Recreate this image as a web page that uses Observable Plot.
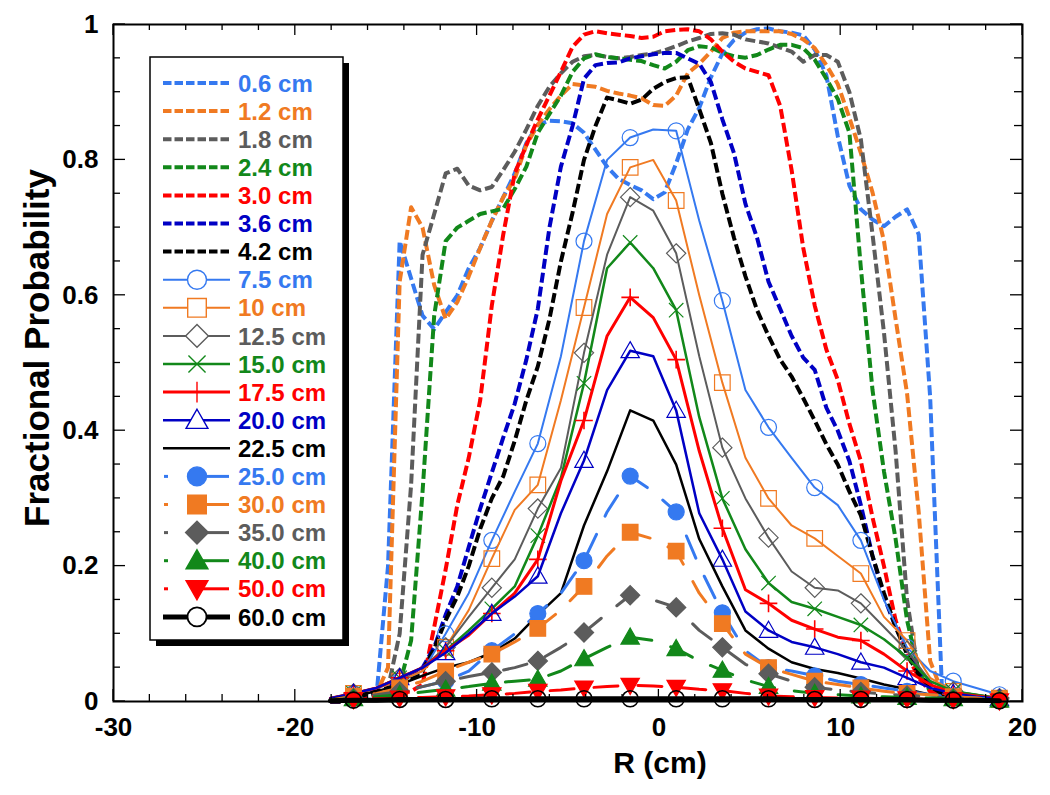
<!DOCTYPE html>
<html>
<head>
<meta charset="utf-8">
<script src="https://cdn.jsdelivr.net/npm/d3@7"></script>
<script src="https://cdn.jsdelivr.net/npm/@observablehq/plot@0.6"></script>
<style>
  html, body { margin: 0; padding: 0; background: #fff; }
  #chart svg { display: block; }
</style>
</head>
<body>
<div id="chart"></div>
<script>
// ---------- DATA ----------
// radial positions (cm): fine grid for the shallow-depth (dashed) curves
const R_fine = [-18.07,-17.44,-16.80,-16.17,-15.53,-14.90,-14.26,-13.63,-13.00,-12.36,-11.73,-11.09,-10.46,-9.83,-9.19,-8.56,-7.93,-7.29,-6.66,-6.02,-5.39,-4.75,-4.12,-3.49,-2.85,-2.22,-1.58,-0.95,-0.31,0.32,0.95,1.59,2.22,2.86,3.49,4.13,4.76,5.40,6.03,6.67,7.30,7.94,8.57,9.21,9.84,10.48,11.11,11.75,12.38,13.02,13.65,14.29,14.92,15.56,16.19,16.83,17.46,18.10,18.73];
// radial positions (cm) for the deeper curves (markers on every second point)
const R_mark = [-18.07,-16.80,-15.53,-14.26,-13.00,-11.73,-10.46,-9.19,-7.93,-6.66,-5.39,-4.12,-2.85,-1.58,-0.31,0.95,2.22,3.49,4.76,6.03,7.30,8.57,9.84,11.11,12.38,13.65,14.92,16.19,17.46,18.73];

const v06 = [0,0,0.005,0.01,0.01,0.2,0.68,0.625,0.57,0.55,0.575,0.6,0.64,0.67,0.71,0.745,0.78,0.825,0.852,0.858,0.857,0.854,0.84,0.815,0.79,0.772,0.763,0.755,0.742,0.752,0.795,0.845,0.877,0.922,0.957,0.977,0.988,0.993,0.994,0.99,0.988,0.984,0.963,0.925,0.835,0.762,0.727,0.712,0.702,0.716,0.727,0.69,0.45,0.025,0.01,0.008,0.005,0.003,0];
const v12 = [0,0,0.005,0.01,0.012,0.05,0.62,0.73,0.70,0.615,0.565,0.59,0.628,0.67,0.71,0.745,0.772,0.822,0.852,0.875,0.895,0.912,0.91,0.908,0.902,0.898,0.895,0.891,0.881,0.88,0.895,0.928,0.942,0.96,0.98,0.988,0.99,0.99,0.99,0.99,0.986,0.978,0.965,0.94,0.912,0.862,0.81,0.752,0.68,0.565,0.455,0.28,0.06,0.015,0.01,0.006,0.004,0.002,0];
const v18 = [0,0,0.005,0.01,0.012,0.02,0.1,0.32,0.66,0.72,0.78,0.787,0.762,0.755,0.76,0.785,0.812,0.845,0.88,0.908,0.928,0.945,0.953,0.955,0.952,0.95,0.952,0.955,0.957,0.962,0.968,0.975,0.98,0.986,0.987,0.985,0.978,0.975,0.972,0.966,0.96,0.945,0.955,0.955,0.945,0.9,0.83,0.69,0.545,0.37,0.15,0.04,0.02,0.01,0.007,0.005,0.004,0.002,0];
const v24 = [0,0,0.005,0.008,0.01,0.015,0.025,0.09,0.31,0.57,0.68,0.70,0.71,0.72,0.724,0.728,0.757,0.79,0.84,0.868,0.895,0.93,0.95,0.956,0.952,0.95,0.948,0.946,0.94,0.935,0.945,0.962,0.968,0.966,0.958,0.953,0.951,0.955,0.963,0.97,0.97,0.965,0.948,0.92,0.89,0.84,0.64,0.46,0.34,0.24,0.12,0.045,0.015,0.008,0.006,0.005,0.004,0.002,0];
const v30 = [0,0,0.003,0.005,0.008,0.01,0.012,0.015,0.025,0.11,0.195,0.29,0.36,0.445,0.585,0.69,0.78,0.822,0.86,0.895,0.93,0.967,0.985,0.99,0.987,0.985,0.983,0.98,0.982,0.99,0.992,0.993,0.99,0.978,0.96,0.945,0.935,0.93,0.925,0.88,0.785,0.67,0.585,0.52,0.475,0.41,0.355,0.272,0.2,0.12,0.07,0.035,0.015,0.008,0.005,0.004,0.003,0.002,0];
const v36 = [0,0,0.005,0.01,0.015,0.02,0.028,0.038,0.05,0.08,0.128,0.17,0.228,0.285,0.338,0.39,0.44,0.505,0.58,0.70,0.79,0.85,0.92,0.94,0.943,0.944,0.95,0.953,0.956,0.958,0.958,0.95,0.942,0.915,0.86,0.81,0.735,0.685,0.62,0.58,0.54,0.508,0.49,0.434,0.40,0.355,0.29,0.215,0.155,0.11,0.075,0.045,0.025,0.015,0.01,0.007,0.005,0.003,0];
const v42 = [0,0,0.005,0.01,0.015,0.02,0.025,0.033,0.045,0.078,0.12,0.155,0.2,0.255,0.30,0.333,0.385,0.445,0.495,0.565,0.65,0.722,0.80,0.85,0.892,0.888,0.883,0.889,0.905,0.915,0.921,0.922,0.875,0.825,0.75,0.685,0.628,0.578,0.54,0.505,0.48,0.448,0.415,0.38,0.35,0.31,0.275,0.215,0.16,0.11,0.07,0.04,0.022,0.012,0.008,0.006,0.004,0.002,0];

const v75  = [0.005,0.012,0.02,0.03,0.045,0.1,0.16,0.238,0.31,0.381,0.51,0.68,0.80,0.833,0.845,0.843,0.71,0.592,0.46,0.405,0.36,0.316,0.29,0.238,0.15,0.08,0.045,0.03,0.02,0.01];
const v100 = [0.005,0.012,0.02,0.03,0.045,0.08,0.135,0.211,0.283,0.32,0.445,0.582,0.72,0.789,0.80,0.74,0.60,0.471,0.36,0.30,0.26,0.241,0.215,0.189,0.125,0.09,0.035,0.015,0.01,0.005];
const v125 = [0.005,0.012,0.02,0.035,0.05,0.08,0.125,0.168,0.21,0.285,0.345,0.515,0.66,0.745,0.725,0.662,0.51,0.375,0.30,0.242,0.192,0.168,0.164,0.145,0.11,0.075,0.03,0.015,0.01,0.005];
const v150 = [0.005,0.012,0.02,0.035,0.05,0.075,0.105,0.137,0.17,0.245,0.33,0.47,0.64,0.678,0.64,0.578,0.42,0.30,0.225,0.175,0.147,0.137,0.125,0.113,0.092,0.065,0.03,0.015,0.01,0.005];
const v175 = [0.005,0.012,0.02,0.035,0.05,0.075,0.098,0.13,0.16,0.21,0.326,0.415,0.54,0.597,0.567,0.505,0.37,0.256,0.165,0.145,0.12,0.107,0.095,0.09,0.07,0.045,0.025,0.012,0.008,0.004];
const v200 = [0.005,0.012,0.02,0.035,0.05,0.072,0.1,0.13,0.155,0.185,0.278,0.356,0.46,0.518,0.51,0.43,0.278,0.21,0.133,0.105,0.088,0.08,0.07,0.058,0.05,0.035,0.02,0.012,0.007,0.004];
const v225 = [0.003,0.008,0.015,0.025,0.038,0.05,0.058,0.072,0.093,0.128,0.16,0.26,0.34,0.43,0.415,0.35,0.24,0.17,0.105,0.078,0.058,0.048,0.042,0.034,0.025,0.018,0.01,0.006,0.004,0.002];
const v250 = [0.002,0.005,0.01,0.015,0.022,0.03,0.045,0.075,0.1,0.13,0.16,0.208,0.28,0.333,0.31,0.28,0.2,0.131,0.075,0.05,0.045,0.038,0.03,0.025,0.02,0.015,0.01,0.007,0.005,0.003];
const v300 = [0.002,0.008,0.012,0.02,0.03,0.045,0.058,0.07,0.088,0.108,0.135,0.17,0.215,0.25,0.24,0.222,0.16,0.115,0.07,0.05,0.04,0.03,0.025,0.02,0.015,0.012,0.01,0.007,0.005,0.003];
const v350 = [0.002,0.005,0.01,0.015,0.022,0.03,0.037,0.043,0.05,0.06,0.08,0.102,0.13,0.157,0.15,0.139,0.105,0.08,0.055,0.041,0.03,0.021,0.017,0.014,0.011,0.009,0.007,0.005,0.004,0.002];
const v400 = [0.002,0.004,0.007,0.01,0.014,0.018,0.022,0.027,0.03,0.033,0.045,0.063,0.08,0.095,0.09,0.078,0.06,0.046,0.032,0.022,0.016,0.012,0.01,0.008,0.007,0.006,0.005,0.004,0.003,0.002];
const v500 = [0.001,0.003,0.004,0.005,0.006,0.007,0.008,0.01,0.012,0.015,0.017,0.02,0.022,0.024,0.023,0.021,0.018,0.016,0.012,0.008,0.007,0.006,0.005,0.005,0.004,0.004,0.003,0.003,0.002,0.001];
const v600 = [0.001,0.002,0.002,0.003,0.003,0.003,0.003,0.004,0.004,0.004,0.004,0.004,0.004,0.004,0.004,0.004,0.004,0.004,0.004,0.004,0.003,0.003,0.003,0.003,0.003,0.003,0.002,0.002,0.002,0.001];

const dashedLabels = ["0.6 cm","1.2 cm","1.8 cm","2.4 cm","3.0 cm","3.6 cm","4.2 cm"];
const markedLabels = ["7.5 cm","10 cm","12.5 cm","15.0 cm","17.5 cm","20.0 cm","22.5 cm","25.0 cm","30.0 cm","35.0 cm","40.0 cm","50.0 cm","60.0 cm"];

const xTicks = [-30,-20,-10,0,10,20];
const xMinor = [-28,-26,-24,-22,-18,-16,-14,-12,-8,-6,-4,-2,2,4,6,8,12,14,16,18];
const yTicks = [0,0.2,0.4,0.6,0.8,1];
const yMinor = [0.05,0.1,0.15,0.25,0.3,0.35,0.45,0.5,0.55,0.65,0.7,0.75,0.85,0.9,0.95];

// ---------- STYLES ----------
const C = {blue:"#3579F0", orange:"#F07A22", grey:"#5C5C5C", green:"#12881A", red:"#FF0000", navy:"#0000C4", black:"#000000"};
function mkSym(f){ return {draw(ctx,size){ f(ctx, Math.sqrt(size/Math.PI)); }}; }
const SYM = {
  circle: mkSym((c,r)=>{c.moveTo(r,0); c.arc(0,0,r,0,2*Math.PI); c.closePath();}),
  square: mkSym((c,r)=>{c.moveTo(-r,-r); c.lineTo(r,-r); c.lineTo(r,r); c.lineTo(-r,r); c.closePath();}),
  diamond: mkSym((c,r)=>{const a=r*1.2; c.moveTo(0,-a); c.lineTo(a,0); c.lineTo(0,a); c.lineTo(-a,0); c.closePath();}),
  triUp: mkSym((c,r)=>{const a=r*1.15; c.moveTo(0,-a); c.lineTo(a,a*0.75); c.lineTo(-a,a*0.75); c.closePath();}),
  triDown: mkSym((c,r)=>{const a=r*1.15; c.moveTo(0,a); c.lineTo(a,-a*0.75); c.lineTo(-a,-a*0.75); c.closePath();}),
  times: mkSym((c,r)=>{const a=r*0.9; c.moveTo(-a,-a); c.lineTo(a,a); c.moveTo(a,-a); c.lineTo(-a,a);}),
  plus: mkSym((c,r)=>{const a=r*1.1; c.moveTo(0,-a); c.lineTo(0,a); c.moveTo(-a,0); c.lineTo(a,0);})
};
const DASH = "10,4";
const DASH_W = 4;
const LONGDASH = "24,20";

const dashedSeries = [v06,v12,v18,v24,v30,v36,v42].map((values,i)=>({
  label: dashedLabels[i], values,
  color: [C.blue,C.orange,C.grey,C.green,C.red,C.navy,C.black][i]
}));
const markedStyle = [
  {color:C.blue,   sym:"circle",  fill:"none",  sw:2,   dash:null},
  {color:C.orange, sym:"square",  fill:"none",  sw:2,   dash:null},
  {color:C.grey,   sym:"diamond", fill:"none",  sw:2,   dash:null},
  {color:C.green,  sym:"times",   fill:"none",  sw:2.5, dash:null},
  {color:C.red,    sym:"plus",    fill:"none",  sw:3,   dash:null},
  {color:C.navy,   sym:"triUp",   fill:"none",  sw:2.5, dash:null},
  {color:C.black,  sym:null,      fill:"none",  sw:2.5, dash:null},
  {color:C.blue,   sym:"circle",  fill:"fill",  sw:3,   dash:LONGDASH},
  {color:C.orange, sym:"square",  fill:"fill",  sw:3,   dash:LONGDASH},
  {color:C.grey,   sym:"diamond", fill:"fill",  sw:3,   dash:LONGDASH},
  {color:C.green,  sym:"triUp",   fill:"fill",  sw:3,   dash:LONGDASH},
  {color:C.red,    sym:"triDown", fill:"fill",  sw:3,   dash:LONGDASH},
  {color:C.black,  sym:"circle",  fill:"none",  sw:5,   dash:null}
];
const markedSeries = [v75,v100,v125,v150,v175,v200,v225,v250,v300,v350,v400,v500,v600].map((values,i)=>({
  label: markedLabels[i], values, ...markedStyle[i]
}));
const symR = {circle:8, square:7.8, diamond:8, triUp:8, triDown:8, times:8, plus:8};

// ---------- MARKS ----------
const marks = [];
for (const s of dashedSeries) {
  const pts = R_fine.map((r,i)=>({r, v: s.values[i]}));
  marks.push(Plot.line(pts, {x:"r", y:"v", stroke:s.color, strokeWidth:DASH_W, strokeDasharray:DASH, strokeLinecap:"butt"}));
}
for (const s of markedSeries) {
  const pts = R_mark.map((r,i)=>({r, v: s.values[i], i}));
  marks.push(Plot.line(pts, {x:"r", y:"v", stroke:s.color, strokeWidth:s.sw, strokeDasharray:s.dash || undefined}));
  if (s.sym) {
    const filled = s.fill === "fill";
    marks.push(Plot.dot(pts.filter(d => d.i % 2 === 1), {
      x:"r", y:"v", symbol: SYM[s.sym], r: symR[s.sym],
      stroke: s.color, fill: filled ? s.color : "none",
      strokeWidth: s.sw >= 5 ? 1.6 : (s.sym === "plus" ? 1.6 : 1.2)
    }));
  }
}

const FONT = "'Liberation Sans', Arial, Helvetica, sans-serif";
const chart = Plot.plot({
  width: 1050, height: 795,
  marginLeft: 113, marginRight: 28, marginTop: 24, marginBottom: 94,
  x: {domain: [-30, 20]},
  y: {domain: [0, 1]},
  style: {fontFamily: FONT, fontSize: "26px", fontWeight: "bold", color: "black", background: "white", overflow: "visible"},
  marks: [
    ...marks,
    Plot.frame({stroke: "black", strokeWidth: 2}),
    Plot.axisX(xTicks, {anchor: "bottom", tickSize: 0, tickPadding: 16, tickFormat: d => String(d), label: null, fontSize: 26, fontWeight: "bold"}),
    Plot.axisY(yTicks, {anchor: "left", tickSize: 0, tickPadding: 15, tickFormat: d => String(d), label: null, fontSize: 26, fontWeight: "bold"}),
    Plot.text(["R (cm)"], {frameAnchor: "bottom", textAnchor: "middle", lineAnchor: "middle", dx: 92, dy: 62, fontSize: 30, fontWeight: "bold", fill: "black"}),
    Plot.text(["Fractional Probability"], {frameAnchor: "left", textAnchor: "middle", lineAnchor: "middle", rotate: -90, dx: -76, dy: -15, fontSize: 35, fontWeight: "bold", fill: "black"})
  ]
});
document.getElementById("chart").append(chart);

// ---------- inward ticks (positions from Plot's scales) ----------
const xs = chart.scale("x"), ys = chart.scale("y");
const X0 = xs.apply(-30), X1 = xs.apply(20), Y0 = ys.apply(0), Y1 = ys.apply(1);
const svg = d3.select(chart);
const tg = svg.append("g").attr("stroke", "black").attr("stroke-width", 1.3);
function tick(x1,y1,x2,y2){ tg.append("line").attr("x1",x1).attr("y1",y1).attr("x2",x2).attr("y2",y2); }
for (const v of xTicks) { const x = xs.apply(v); tick(x, Y0, x, Y0-12); tick(x, Y1, x, Y1+11); }
for (const v of xMinor) { const x = xs.apply(v); tick(x, Y0, x, Y0-7); tick(x, Y1, x, Y1+6); }
for (const v of yTicks) { const y = ys.apply(v); tick(X0, y, X0+12, y); tick(X1, y, X1-12, y); }
for (const v of yMinor) { const y = ys.apply(v); tick(X0, y, X0+7, y); tick(X1, y, X1-8, y); }

// ---------- legend ----------
const LX = 150, LY = 57, LW = 193, LH = 583;
const lg = svg.append("g");
lg.append("rect").attr("x", LX+6).attr("y", LY+6).attr("width", LW).attr("height", LH).attr("fill", "black");
lg.append("rect").attr("x", LX).attr("y", LY).attr("width", LW).attr("height", LH).attr("fill", "white").attr("stroke", "black").attr("stroke-width", 1.5);
const items = [
  ...dashedSeries.map(s => ({...s, kind: "dashed"})),
  ...markedSeries.map(s => ({...s, kind: "marked"}))
];
items.forEach((s, k) => {
  const y = 83 + 28.1 * k;
  if (s.kind === "dashed") {
    lg.append("line").attr("x1", 163).attr("x2", 231).attr("y1", y).attr("y2", y)
      .attr("stroke", s.color).attr("stroke-width", DASH_W).attr("stroke-dasharray", "8.5,3");
  } else {
    if (s.dash) {
      lg.append("line").attr("x1", 164).attr("x2", 168).attr("y1", y).attr("y2", y).attr("stroke", s.color).attr("stroke-width", s.sw);
      lg.append("line").attr("x1", 197).attr("x2", 229).attr("y1", y).attr("y2", y).attr("stroke", s.color).attr("stroke-width", s.sw);
    } else {
      lg.append("line").attr("x1", 163).attr("x2", 230).attr("y1", y).attr("y2", y).attr("stroke", s.color).attr("stroke-width", s.sw);
    }
    if (s.sym) {
      const r = symR[s.sym] + 1.5;
      const path = d3.symbol().type(SYM[s.sym]).size(Math.PI * r * r)();
      const filled = s.fill === "fill";
      lg.append("path").attr("d", path).attr("transform", `translate(197,${y})`)
        .attr("fill", filled ? s.color : "white")
        .attr("stroke", s.color).attr("stroke-width", s.sw >= 5 ? 1.8 : 1.4);
    }
  }
  lg.append("text").attr("x", 238).attr("y", y).attr("dy", "0.36em")
    .attr("text-anchor", "start")
    .attr("fill", s.color).attr("font-family", FONT).attr("font-weight", "bold").attr("font-size", 24)
    .text(s.label);
});
</script>
</body>
</html>
